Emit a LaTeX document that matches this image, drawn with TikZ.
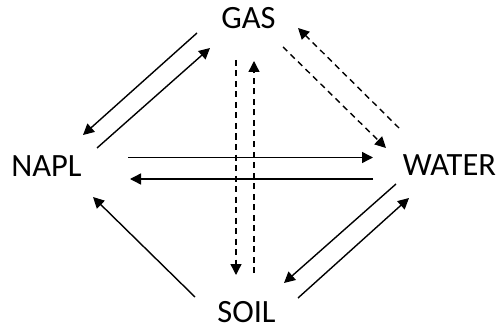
\documentclass[tikz,border=0pt]{standalone}
\usepackage{fontspec}
\setmainfont{Carlito}
\usetikzlibrary{arrows.meta}
\begin{document}
\begin{tikzpicture}[x=1pt,y=-1pt,
  lbl/.style={font=\fontsize{32.5}{36}\selectfont, inner sep=0pt, anchor=base},
  flow/.style={line width=1.4pt, -{Triangle[length=11pt,width=11pt]}},
  dflow/.style={flow, dash pattern=on 6pt off 4.5pt}]
\useasboundingbox (0,0) rectangle (502,331);
\node[lbl] (gas) at (248.5,29) {GAS};
\node[lbl] (napl) at (46.5,176) {NAPL};
\node[lbl] (water) at (449.5,175.5) {WATER};
\node[lbl] (soil) at (246.5,322) {SOIL};
% endpoints
\coordinate (g1) at (197,33);   \coordinate (n1) at (83,135);
\coordinate (n2) at (97,148);   \coordinate (g2) at (210,48);
\coordinate (g3) at (283,47);   \coordinate (w3) at (386,148);
\coordinate (w4) at (399,128);  \coordinate (g4) at (298,28);
\coordinate (g5) at (236,60);   \coordinate (s5) at (236,275);
\coordinate (s6) at (254,273);  \coordinate (g6) at (254,61);
\coordinate (n7) at (128,157.5); \coordinate (w7) at (373,157.5);
\coordinate (w8) at (373,179);  \coordinate (n8) at (130,179);
\coordinate (s9) at (195,297);  \coordinate (n9) at (93,197);
\coordinate (w10) at (396,184); \coordinate (s10) at (284,283);
\coordinate (s11) at (298,298); \coordinate (w11) at (409,198);
\draw[flow] (g1) -- (n1);
\draw[flow] (n2) -- (g2);
\draw[dflow] (g3) -- (w3);
\draw[dflow] (w4) -- (g4);
\draw[dflow] (g5) -- (s5);
\draw[dflow] (s6) -- (g6);
\draw[flow] (n7) -- (w7);
\draw[flow] (w8) -- (n8);
\draw[flow] (s9) -- (n9);
\draw[flow] (w10) -- (s10);
\draw[flow] (s11) -- (w11);
\end{tikzpicture}
\end{document}
